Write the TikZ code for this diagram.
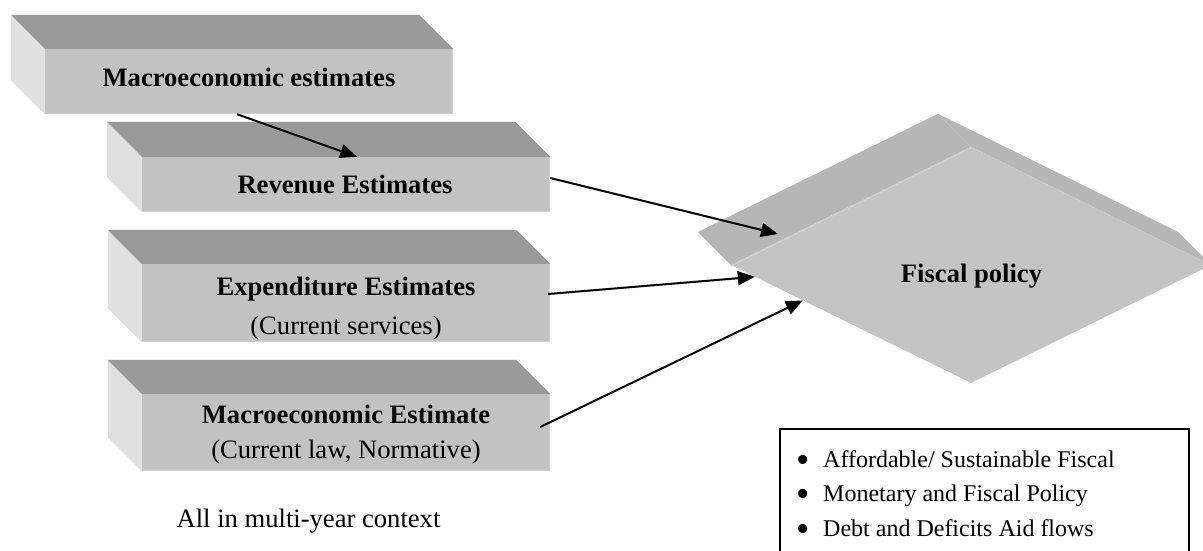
\documentclass[tikz,border=0pt]{standalone}
\usepackage{fontspec}
\setmainfont{Liberation Serif}
\usetikzlibrary{calc,arrows.meta,shapes.geometric}

\definecolor{slabtop}{HTML}{999999}
\definecolor{slabfront}{HTML}{C2C2C2}
\definecolor{slabside}{HTML}{E0E0E0}
\definecolor{slabedge}{HTML}{D2D2D2}
\definecolor{dmside}{HTML}{B6B6B6}
\definecolor{dmfront}{HTML}{C4C4C4}
\definecolor{dmedge}{HTML}{D0D0D0}

\tikzset{
  slab/.style={fill=slabfront, inner sep=0pt},
  slabtext/.style={anchor=base, inner sep=0pt,
    font=\fontsize{26.6pt}{32pt}\selectfont},
  link/.style={line width=2pt, -{Triangle[length=17pt,width=14pt]}},
  itemtext/.style={anchor=base west, inner sep=0pt,
    font=\fontsize{24pt}{28pt}\selectfont},
  itembullet/.style={anchor=base, inner sep=0pt,
    font=\fontsize{38pt}{40pt}\selectfont},
}

% side and top faces of a slab whose front face is node #1, depth #2
\newcommand\slabsides[2]{%
  \fill[slabside] (#1.north west) -- ++(-#2,-#2)
    -- ($(#1.south west)+(-#2,-#2)$) -- (#1.south west) -- cycle;
  \fill[slabtop] (#1.north west) -- ++(-#2,-#2)
    -- ($(#1.north east)+(-#2,-#2)$) -- (#1.north east) -- cycle;
  \draw[slabedge, line width=1.5pt] ([xshift=-0.75pt]#1.north east)
    -- ([xshift=-0.75pt]#1.south east);
  \draw[slabedge, line width=1pt] ([yshift=0.5pt]#1.south west)
    -- ([yshift=0.5pt]#1.south east);
}

\begin{document}
\begin{tikzpicture}[x=1pt, y=-1pt]
\useasboundingbox (0,0) rectangle (1203,551);
\clip (0,0) rectangle (1203,551);

% ---- stacked estimate slabs ----
\node[slab, minimum width=408pt, minimum height=65pt] (macro) at (249,81.5) {};
\slabsides{macro}{34}
\node[slabtext] (macrot) at (249,87) {\textbf{Macroeconomic estimates}};

\node[slab, minimum width=408pt, minimum height=55pt] (rev) at (346,184.5) {};
\slabsides{rev}{35}
\node[slabtext] (revt) at (345,193) {\textbf{Revenue Estimates}};

\node[slab, minimum width=408pt, minimum height=78pt] (exp) at (346,303) {};
\slabsides{exp}{34}
\node[slabtext] (expt) at (346,295) {\textbf{Expenditure Estimates}};
\node[slabtext] (expn) at (346,334) {(Current services)};

\node[slab, minimum width=408pt, minimum height=77pt] (mest) at (346,432.5) {};
\slabsides{mest}{34}
\node[slabtext] (mestt) at (346,423) {\textbf{Macroeconomic Estimate}};
\node[slabtext] (mestn) at (346,458) {(Current law, Normative)};

\node[slabtext] (context) at (308.5,527) {All in multi-year context};

% ---- fiscal policy diamond ----
\node[diamond, fill=dmfront, inner sep=0pt, aspect=2.03,
  minimum width=480pt, minimum height=236pt] (fp) at (971,265) {};
\fill[dmside] (fp.west) -- ++(-33,-33) -- ($(fp.north)+(-33,-33)$)
  -- (fp.north) -- cycle;
\fill[dmside] (fp.north) -- ++(-33,-33) -- ($(fp.east)+(-33,-33)$)
  -- (fp.east) -- cycle;
\draw[dmedge, line width=1.2pt] ([yshift=-1pt]fp.west) -- ([yshift=-1pt]fp.north);
\node[slabtext, font=\fontsize{26.6pt}{30pt}\selectfont\bfseries]
  (fptext) at (971.5,282) {Fiscal policy};
\coordinate (fpin) at (778,234);

% ---- connectors ----
\draw[link] ([xshift=-12pt]macro.south) -- ([xshift=11pt]rev.north);
\draw[link] ([yshift=6.5pt]rev.east) -- (fpin);
\draw[link] ([yshift=9pt,xshift=-2pt]exp.east) -- ($(fp.west)!0.1!(fp.south)$);
\draw[link] ([yshift=5.5pt,xshift=-10pt]mest.east) -- ($(fp.west)!0.3!(fp.south)$);

% ---- notes box ----
\node[draw, line width=1.5pt, anchor=north west, inner sep=0pt,
  minimum width=409pt, minimum height=150pt] (notes) at (779,428) {};
\node[itembullet] (b1) at (803,472) {•};
\node[itemtext] (t1) at (823,467) {Affordable/ Sustainable Fiscal};
\node[itembullet] (b2) at (803,506.5) {•};
\node[itemtext] (t2) at (823,501.5) {Monetary and Fiscal Policy};
\node[itembullet] (b3) at (803,541) {•};
\node[itemtext] (t3) at (823,536) {Debt and Deficits Aid flows};
\end{tikzpicture}
\end{document}
